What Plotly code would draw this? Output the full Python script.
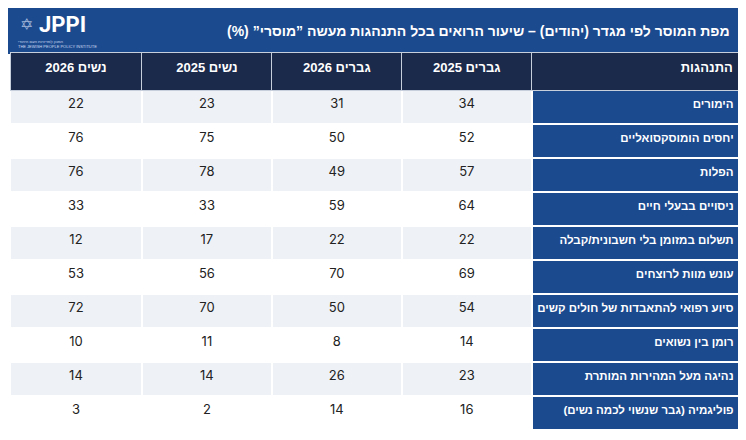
import plotly.graph_objects as go

RLM = "\u200f"
NBSP = "\u00a0"
PAD = NBSP * 2

def rtl(s):
    return RLM + s + RLM

behaviours = ["הימורים",
              "יחסים הומוסקסואליים",
              "הפלות",
              "ניסויים בבעלי חיים",
              "תשלום במזומן בלי חשבונית/קבלה",
              "עונש מוות לרוצחים",
              "סיוע רפואי להתאבדות של חולים קשים",
              "רומן בין נשואים",
              "נהיגה מעל המהירות המותרת",
              "פוליגמיה (גבר שנשוי לכמה נשים)"]

men_2025 = [34, 52, 57, 64, 22, 69, 54, 14, 23, 16]
men_2026 = [31, 50, 49, 59, 22, 70, 50, 8, 26, 14]
women_2025 = [23, 75, 78, 33, 17, 56, 70, 11, 14, 2]
women_2026 = [22, 76, 76, 33, 12, 53, 72, 10, 14, 3]

headers = ["נשים 2026", "נשים 2025", "גברים 2026", "גברים 2025", "התנהגות"]
title = "מפת המוסר לפי מגדר (יהודים) – שיעור הרואים בכל התנהגות מעשה ”מוסרי” (%)"

BLUE = "#1c4a8f"
NAVY = "#1b2a4b"
LIGHT = "#eef1f6"
TEXT = "#222222"
FONT = "Liberation Sans, DejaVu Sans"
NUM_FONT = "Inter, Roboto, DejaVu Sans"

n = len(behaviours)
row_fill = [LIGHT if i % 2 == 0 else "white" for i in range(n)]

# non-breaking spaces keep every label on one line
label_cells = ["<b>" + rtl(b.replace(" ", NBSP)) + "</b>" + PAD for b in behaviours]

fig = go.Figure()

fig.add_trace(go.Table(
    domain=dict(x=[2 / 746, 740 / 746], y=[0, 1 - 44 / 440]),
    columnwidth=[133, 131, 131, 131, 218],
    header=dict(values=["<b>" + rtl(h) + "</b>" for h in headers[:4]]
                + ["<b>" + rtl(headers[4]) + "</b>" + PAD],
                fill_color=NAVY,
                line=dict(color="#c8cfdc", width=1),
                align=["center", "center", "center", "center", "right"],
                font=dict(family=FONT, size=13, color="white"),
                height=38),
    cells=dict(values=[women_2026, women_2025, men_2026, men_2025, label_cells],
               fill_color=[row_fill, row_fill, row_fill, row_fill, [BLUE] * n],
               line=dict(color="white", width=2),
               align=["center", "center", "center", "center", "right"],
               font=dict(family=[NUM_FONT] * 4 + [FONT], size=[13, 13, 13, 13, 11.5],
                         color=[TEXT, TEXT, TEXT, TEXT, "white"]),
               height=34)
))

# title bar
fig.add_shape(type="rect", xref="paper", yref="paper",
              x0=0, x1=741 / 746, y0=1 - 46 / 440, y1=1,
              fillcolor=BLUE, line=dict(width=0), layer="below")

fig.add_annotation(text="<b>" + rtl(title) + "</b>", xref="paper", yref="paper",
                   x=724 / 746, y=1 - 23 / 440, xanchor="right", yanchor="middle",
                   showarrow=False, font=dict(family=FONT, size=14, color="white"))

# logo
fig.add_annotation(text="✡", xref="paper", yref="paper",
                   x=18 / 746, y=1 - 17 / 440, xanchor="center", yanchor="middle",
                   showarrow=False, font=dict(family="DejaVu Sans", size=16, color="#9fb3d6"))
fig.add_annotation(text="<b>JPPI</b>", xref="paper", yref="paper",
                   x=29 / 746, y=1 - 17 / 440, xanchor="left", yanchor="middle",
                   showarrow=False, font=dict(family="Roboto, DejaVu Sans", size=22, color="white"))
fig.add_annotation(text=rtl("המכון למדיניות העם היהודי") + "<br>THE JEWISH PEOPLE POLICY INSTITUTE",
                   xref="paper", yref="paper",
                   x=8 / 746, y=1 - 36 / 440, xanchor="left", yanchor="middle",
                   showarrow=False, align="left",
                   font=dict(family=FONT, size=4, color="#d0dcef"))

fig.update_layout(width=746, height=440,
                  margin=dict(l=0, r=0, t=0, b=0),
                  paper_bgcolor="white", plot_bgcolor="white")

fig.write_html("out.html")
